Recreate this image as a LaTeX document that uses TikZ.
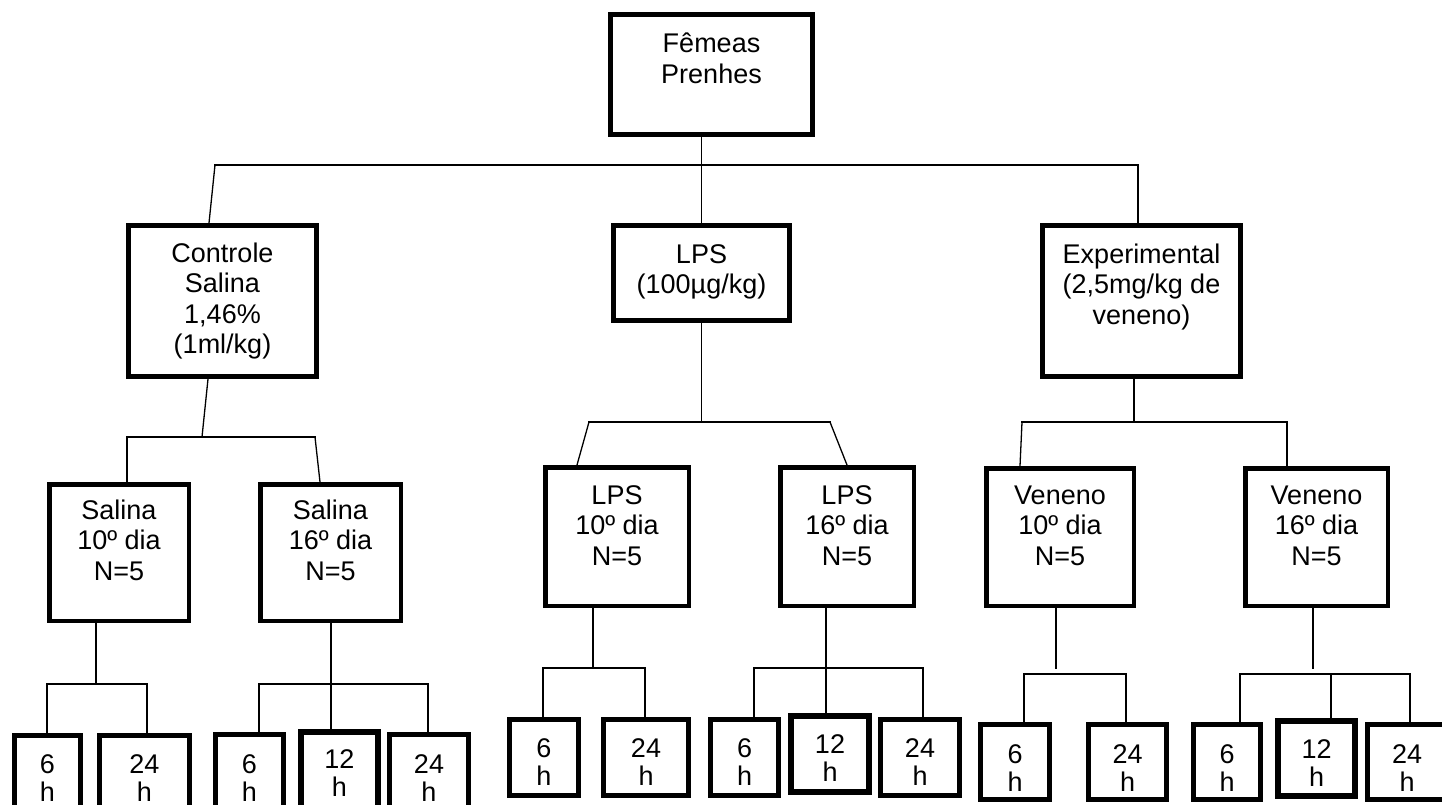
\documentclass[tikz,border=0pt]{standalone}
\usepackage{fontspec}
\setmainfont{Liberation Sans}
\usetikzlibrary{calc}
\tikzset{
  boxst/.style={draw=black, fill=white, inner sep=0pt, rectangle, font=\fontsize{27}{30.5}\selectfont},
  conn/.style={line width=1.3pt, line cap=rect}
}
\newcommand\mkbox[8]{%
  \pgfmathsetmacro\bxw{#4-#2}\pgfmathsetmacro\bxh{#5-#3}%
  \pgfmathsetmacro\bxcx{(#2+#4)/2}\pgfmathsetmacro\bxcy{(#3+#5)/2}%
  \pgfmathsetmacro\bxiw{\bxw-2*#6}\pgfmathsetmacro\bxih{\bxh-2*#6}%
  \pgfmathsetmacro\bxb{#7-#6}%
  \node[boxst, line width=#6pt, minimum width=\bxw pt-#6pt, minimum height=\bxh pt-#6pt] (#1) at (\bxcx,\bxcy)
    {\parbox[c][\bxih pt][t]{\bxiw pt}{\centering\rule{0pt}{\bxb pt}#8}};%
}
\begin{document}
\begin{tikzpicture}[x=1pt,y=-1pt]
\useasboundingbox (0,0) rectangle (1442,805);
\fill[white] (0,0) rectangle (1442,805);
\clip (0,0) rectangle (1442,805);

% level 0
\mkbox{F}{608}{12}{815}{137}{5}{41}{Fêmeas\\Prenhes}
% level 1
\mkbox{C}{126}{223}{319}{379}{5}{39}{Controle\\Salina\\1,46\%\\(1ml/kg)}
\mkbox{L}{611}{223}{792}{323}{5}{40}{LPS\\(100µg/kg)}
\mkbox{E}{1040}{223}{1243}{379}{5}{40}{Experimental\\(2,5mg/kg de\\veneno)}
% level 2
\mkbox{S10}{47}{482}{191}{623}{4.5}{37}{Salina\\10º dia\\N=5}
\mkbox{S16}{258}{482}{403}{623}{4.5}{37}{Salina\\16º dia\\N=5}
\mkbox{L10}{543}{465}{691}{608}{4.5}{39}{LPS\\10º dia\\N=5}
\mkbox{L16}{778}{465}{916}{608}{4.5}{39}{LPS\\16º dia\\N=5}
\mkbox{V10}{984}{466}{1136}{608}{4.5}{38}{Veneno\\10º dia\\N=5}
\mkbox{V16}{1243}{466}{1390}{608}{4.5}{38}{Veneno\\16º dia\\N=5}
% level 3
\mkbox{a1}{12}{733}{83}{830}{5}{40}{6\\[-2pt]h}
\mkbox{a2}{97}{733}{192}{830}{5}{40}{24\\[-2pt]h}
\mkbox{b1}{213}{732}{286}{830}{5}{41}{6\\[-2pt]h}
\mkbox{b2}{298}{729}{381}{830}{6}{39}{12\\[-2pt]h}
\mkbox{b3}{387}{732}{471}{830}{5}{41}{24\\[-2pt]h}
\mkbox{c1}{507}{717}{581}{798}{5}{40}{6\\[-2pt]h}
\mkbox{c2}{601}{717}{691}{798}{5}{40}{24\\[-2pt]h}
\mkbox{d1}{708}{717}{781}{798}{5}{40}{6\\[-2pt]h}
\mkbox{d2}{788}{713}{872}{795}{6}{40}{12\\[-2pt]h}
\mkbox{d3}{878}{717}{962}{798}{5}{40}{24\\[-2pt]h}
\mkbox{e1}{978}{722}{1052}{802}{5}{41}{6\\[-2pt]h}
\mkbox{e2}{1086}{722}{1169}{802}{5}{41}{24\\[-2pt]h}
\mkbox{f1}{1191}{722}{1263}{802}{5}{41}{6\\[-2pt]h}
\mkbox{f2}{1275}{718}{1358}{799}{6}{40}{12\\[-2pt]h}
\mkbox{f3}{1365}{722}{1449}{802}{5}{41}{24\\[-2pt]h}

% connectors: top
\coordinate (j0l) at (215,165);
\coordinate (j0r) at (1138,165);
\draw[conn] (F.south -| L.north) -- (L.north);
\draw[conn] (j0l) -- (j0r);
\draw[conn] (j0l) -- ([xshift=-13.5pt]C.north);
\draw[conn] (j0r) -- (j0r |- E.north);

% Controle
\coordinate (j1) at (202,437);
\coordinate (j1l) at (127,437);
\coordinate (j1r) at (315,437);
\draw[conn] ([xshift=-14.5pt]C.south) -- (j1);
\draw[conn] (j1l) -- (j1r);
\draw[conn] (j1l) -- (j1l |- S10.north);
\draw[conn] (j1r) -- ([xshift=-10.5pt]S16.north);

% LPS
\coordinate (j2l) at (589,422);
\coordinate (j2r) at (830,422);
\draw[conn] (L.south) -- (L.south |- j2l);
\draw[conn] (j2l) -- (j2r);
\draw[conn] (j2l) -- ([xshift=-40pt]L10.north);
\draw[conn] (j2r) -- (L16.north);

% Experimental
\coordinate (j3m) at (1134,422);
\coordinate (j3l) at (1022,422);
\coordinate (j3r) at (1287,422);
\draw[conn] (j3m |- E.south) -- (j3m);
\draw[conn] (j3l) -- (j3r);
\draw[conn] (j3l) -- ([xshift=-40pt]V10.north);
\draw[conn] (j3r) -- (j3r |- V16.north);

% Salina 10
\coordinate (k1m) at (96,684);
\coordinate (k1l) at (47,684);
\coordinate (k1r) at (147,684);
\draw[conn] (k1m |- S10.south) -- (k1m);
\draw[conn] (k1l) -- (k1r);
\draw[conn] (k1l) -- (k1l |- a1.north);
\draw[conn] (k1r) -- (k1r |- a2.north);

% Salina 16
\coordinate (k2m) at (331,684);
\coordinate (k2l) at (259,684);
\coordinate (k2r) at (428,684);
\draw[conn] (k2m |- S16.south) -- (k2m |- b2.north);
\draw[conn] (k2l) -- (k2r);
\draw[conn] (k2l) -- (k2l |- b1.north);
\draw[conn] (k2r) -- (k2r |- b3.north);

% LPS 10
\coordinate (k3m) at (593,668);
\coordinate (k3l) at (543,668);
\coordinate (k3r) at (645,668);
\draw[conn] (k3m |- L10.south) -- (k3m);
\draw[conn] (k3l) -- (k3r);
\draw[conn] (k3l) -- (k3l |- c1.north);
\draw[conn] (k3r) -- (k3r |- c2.north);

% LPS 16
\coordinate (k4m) at (826,668);
\coordinate (k4l) at (754,668);
\coordinate (k4r) at (923,668);
\draw[conn] (k4m |- L16.south) -- (k4m |- d2.north);
\draw[conn] (k4l) -- (k4r);
\draw[conn] (k4l) -- (k4l |- d1.north);
\draw[conn] (k4r) -- (k4r |- d3.north);

% Veneno 10
\coordinate (k5m) at (1056,668);
\coordinate (k5l) at (1024,674);
\coordinate (k5r) at (1126,674);
\draw[conn] (k5m |- V10.south) -- (k5m);
\draw[conn] (k5l) -- (k5r);
\draw[conn] (k5l) -- (k5l |- e1.north);
\draw[conn] (k5r) -- (k5r |- e2.north);

% Veneno 16
\coordinate (k6m) at (1313,668);
\coordinate (k6l) at (1240,674);
\coordinate (k6c) at (1331,674);
\coordinate (k6r) at (1410,674);
\draw[conn] (k6m |- V16.south) -- (k6m);
\draw[conn] (k6l) -- (k6r);
\draw[conn] (k6l) -- (k6l |- f1.north);
\draw[conn] (k6c) -- (k6c |- f2.north);
\draw[conn] (k6r) -- (k6r |- f3.north);
\end{tikzpicture}
\end{document}
